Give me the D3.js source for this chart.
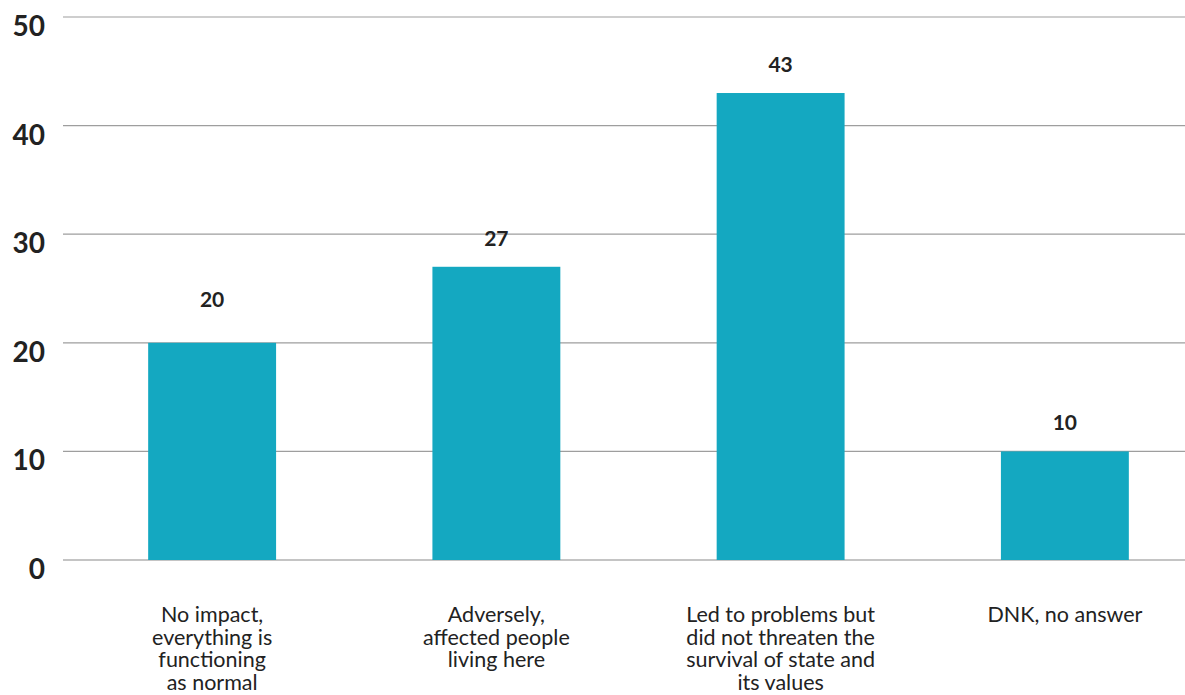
<!DOCTYPE html>
<html>
<head>
<meta charset="utf-8">
<script src="https://cdn.jsdelivr.net/npm/d3@7"></script>
<style>
  body { margin: 0; background: #fff; }
  svg { display: block; }
</style>
</head>
<body>
<script>
// chart data
var categories = [
    ["No impact,", "everything is", "functioning", "as normal"],
    ["Adversely,", "affected people", "living here"],
    ["Led to problems but", "did not threaten the", "survival of state and", "its values"],
    ["DNK, no answer"]
];
var values = [20, 27, 43, 10];
var yTicks = [0, 10, 20, 30, 40, 50];

var width = 1185,
    height = 695;

var svg = d3.select("body")
    .append("svg")
    .attr("width", width)
    .attr("height", height);

// x scale - one band per answer
var x = d3.scaleBand()
    .domain(d3.range(values.length))
    .range([70, 1207])
    .paddingInner(0.55)
    .paddingOuter(0.275);

var y = d3.scaleLinear()
    .domain([0, 50])
    .range([560, 17]);

// gridlines
svg.selectAll(".grid")
    .data(yTicks)
    .enter()
    .append("line")
    .attr("class", "grid")
    .attr("x1", 63)
    .attr("x2", width)
    .attr("y1", function(d){ return y(d); })
    .attr("y2", function(d){ return y(d); })
    .attr("stroke", function(d){ return d === 0 ? "#c4c4c4" : "#9e9e9e"; })
    .attr("stroke-width", function(d){ return d === 0 ? 2 : 1.2; });

// y tick labels
svg.selectAll(".ytick")
    .data(yTicks)
    .enter()
    .append("text")
    .attr("class", "ytick")
    .attr("x", 45)
    .attr("y", function(d){ return y(d) + 19; })
    .attr("text-anchor", "end")
    .attr("font-family", "Lato, 'Open Sans', sans-serif")
    .attr("font-weight", 700)
    .attr("font-size", 28)
    .attr("fill", "#222")
    .text(function(d){ return d; });

// bars
svg.selectAll(".bar")
    .data(values)
    .enter()
    .append("rect")
    .attr("class", "bar")
    .attr("x", function(d, i){ return x(i); })
    .attr("width", x.bandwidth())
    .attr("y", function(d){ return y(d); })
    .attr("height", function(d){ return y(0) - y(d); })
    .attr("fill", "#14a8c1");

// value labels (the first one sits a bit higher in the original)
svg.selectAll(".val")
    .data(values)
    .enter()
    .append("text")
    .attr("class", "val")
    .attr("x", function(d, i){ return x(i) + x.bandwidth() / 2; })
    .attr("y", function(d, i){ return y(d) - (i === 0 ? 36 : 21); })
    .attr("text-anchor", "middle")
    .attr("font-family", "Lato, 'Open Sans', sans-serif")
    .attr("font-weight", 700)
    .attr("font-size", 21)
    .attr("fill", "#222")
    .text(function(d){ return d; });

// category labels, line by line
var cat = svg.selectAll(".cat")
    .data(categories)
    .enter()
    .append("text")
    .attr("class", "cat")
    .attr("text-anchor", "middle")
    .attr("font-family", "Lato, 'Open Sans', sans-serif")
    .attr("font-size", 21.5)
    .attr("fill", "#222");

cat.selectAll("tspan")
    .data(function(d, i){ return d.map(function(t){ return {t: t, i: i}; }); })
    .enter()
    .append("tspan")
    .attr("x", function(d){ return x(d.i) + x.bandwidth() / 2; })
    .attr("y", function(d, j){ return 622 + j * 22.5; })
    .text(function(d){ return d.t; });
</script>
</body>
</html>
